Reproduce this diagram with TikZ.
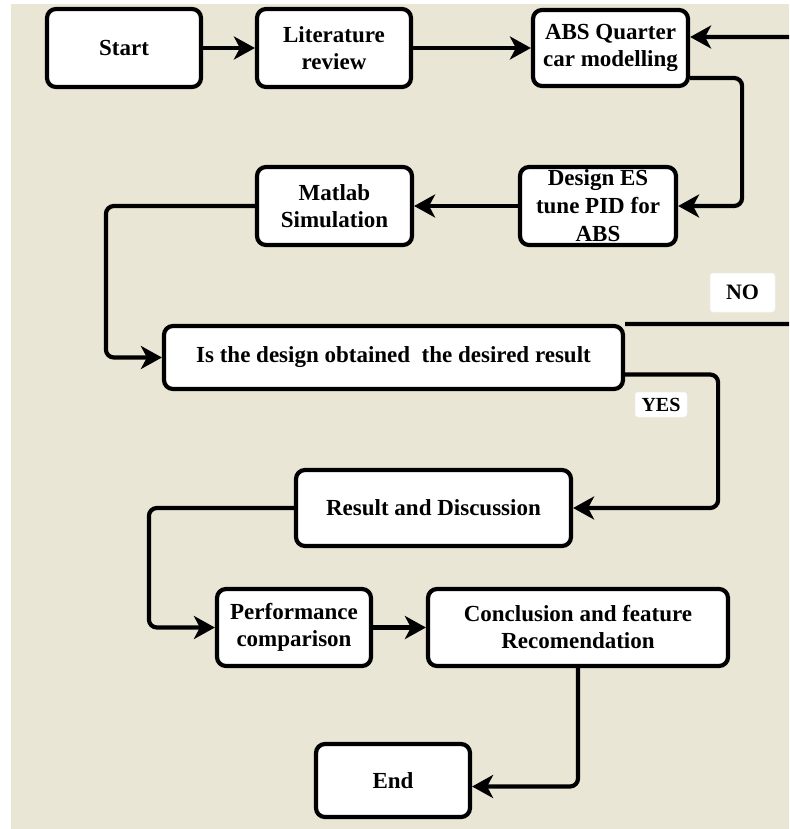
\documentclass[tikz,border=0pt]{standalone}
\usepackage{fontspec}
\setmainfont{Liberation Serif}
\usetikzlibrary{arrows.meta}
\definecolor{bgbeige}{RGB}{234,230,214}
\begin{document}
\begin{tikzpicture}[x=1pt,y=-1pt,
  box/.style={draw=black, fill=white, line width=4.2pt, rounded corners=9pt,
    align=center, inner sep=0pt, font=\fontsize{23}{27}\selectfont\bfseries},
  arr/.style={line width=4.2pt, rounded corners=8pt,
    -{Stealth[length=21pt,width=23pt,inset=6pt]}},
  lab/.style={fill=white, draw=gray!12, line width=0.5pt, rounded corners=3pt,
    inner sep=0pt}]
\useasboundingbox (0,0) rectangle (789,829);
\fill[white] (0,0) rectangle (789,829);
\fill[bgbeige] (11,4) rectangle (789,829);
\begin{scope}
\clip (0,0) rectangle (789,829);
% nodes
\node[box, minimum width=154pt, minimum height=78pt] (start) at (124,48) {Start};
\node[box, minimum width=154pt, minimum height=78pt] (lit) at (334,48) {Literature\\review};
\node[box, minimum width=155pt, minimum height=76pt] (abs) at (610.5,48) {ABS Quarter\\car modelling};
\node[box, minimum width=156pt, minimum height=78pt, font=\fontsize{23}{28}\selectfont\bfseries] (design) at (598,206) {Design ES\\tune PID for\\ABS};
\node[box, minimum width=155pt, minimum height=78pt] (matlab) at (334.5,206) {Matlab\\Simulation};
\node[box, minimum width=459pt, minimum height=63pt] (dec) at (393.5,357.5) {Is the design obtained\ \ the desired result};
\node[box, minimum width=275pt, minimum height=76pt] (res) at (433.5,508) {Result and Discussion};
\node[box, minimum width=154pt, minimum height=77pt] (perf) at (294,627.5) {Performance\\comparison};
\node[box, minimum width=300pt, minimum height=77pt] (conc) at (578,627.5) {Conclusion and feature\\Recomendation};
\node[box, minimum width=154pt, minimum height=73pt] (endn) at (393,780.5) {End};
% labels
\node[lab, minimum width=65pt, minimum height=39pt, font=\fontsize{22}{24}\selectfont\bfseries] (no) at (742.5,292.5) {NO};
\node[lab, minimum width=52pt, minimum height=25pt, font=\fontsize{20}{22}\selectfont\bfseries] (yes) at (661,404.5) {YES};
% connectors
\draw[arr] (start.east) -- (lit.west);
\draw[arr] (lit.east) -- (abs.west);
\draw[arr] ([yshift=-30pt]abs.east) -- ++(52,0) |- (design.east);
\draw[arr] (design.west) -- (matlab.east);
\draw[arr] (matlab.west) -- ++(-149,0) |- (dec.west);
\draw[arr] (dec.north east) -- ++(200,0) |- ([yshift=11pt]abs.east);
\draw[arr] ([yshift=-17pt]dec.east) -- ++(93,0) |- (res.east);
\draw[arr] (res.west) -- ++(-145,0) |- (perf.west);
\draw[arr] (perf.east) -- (conc.west);
\draw[arr] (conc.south) |- ([yshift=-6pt]endn.east);
\end{scope}
\end{tikzpicture}
\end{document}
